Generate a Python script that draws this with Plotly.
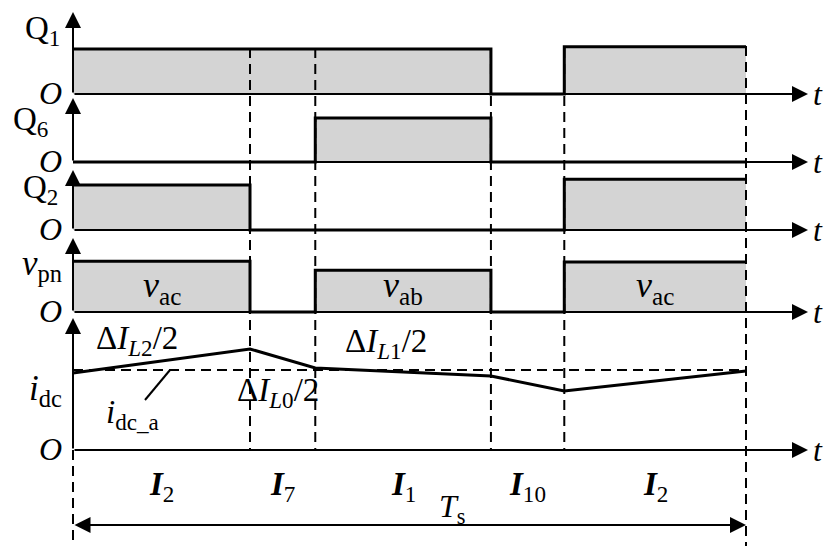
import plotly.graph_objects as go

W, H = 825, 546
FONT = "Liberation Serif"

# ---------------- data (time as fraction of Ts) ----------------
t_edges = [0.0, 0.263, 0.360, 0.621, 0.730, 1.0]
q1_t = [0.0, 0.621, 0.730, 1.0]
q1_v = [1.0, 0.0, 1.05, 1.05]
q6_t = [0.0, 0.360, 0.621, 1.0]
q6_v = [0.0, 0.98, 0.0, 0.0]
q2_t = [0.0, 0.263, 0.730, 1.0]
q2_v = [1.0, 0.0, 1.13, 1.13]
vpn_t = t_edges
vpn_v = [1.13, 0.0, 0.93, 0.0, 1.11, 1.11]
cur_t = t_edges
cur_v = [0.9625, 1.2625, 1.025, 0.925, 0.7375, 0.9875]
idc_level = 1.0
vec_labels = ["2", "7", "1", "10", "2"]
vpn_labels = ["ac", None, "ab", None, "ac"]

# ---------------- layout helpers ----------------
X0, XW = 73, 673          # pixel of t=0 and pixel width of Ts
def tx(px):               # pixel x -> time
    return (px - X0) / XW
panels = {                # axis id: (baseline px, px per unit, axis-arrow top px)
    "y":  (94, 45, 12),
    "y2": (162, 45, 98),
    "y3": (230, 45, 170),
    "y4": (312, 45, 238),
    "y5": (450, 80, 318),
}
def pv(ax, px):           # pixel y -> value on panel axis
    b, u, _ = panels[ax]
    return (b - px) / u

fig = go.Figure()
series = [("y", q1_t, q1_v), ("y2", q6_t, q6_v), ("y3", q2_t, q2_v), ("y4", vpn_t, vpn_v)]
for ax, t, v in series:
    fig.add_trace(go.Scatter(x=t, y=v, xaxis="x", yaxis=ax, mode="lines",
                             line=dict(shape="hv", color="black", width=3),
                             fill="tozeroy", fillcolor="#d4d4d4", hoverinfo="skip"))
fig.add_trace(go.Scatter(x=cur_t, y=cur_v, xaxis="x", yaxis="y5", mode="lines",
                         line=dict(color="black", width=3), hoverinfo="skip"))

layout = dict(width=W, height=H, margin=dict(l=0, r=0, t=0, b=0),
              paper_bgcolor="white", plot_bgcolor="white", showlegend=False,
              xaxis=dict(domain=[0, 1], range=[tx(0), tx(W)], visible=False))
for ax, (b, u, _) in panels.items():
    key = "yaxis" if ax == "y" else "yaxis" + ax[1:]
    d = dict(domain=[0, 1], range=[(b - H) / u, b / u], visible=False)
    if ax != "y":
        d["overlaying"] = "y"
    layout[key] = d
fig.update_layout(**layout)

ann = []
shapes = []
# axes arrows
for ax, (b, u, top) in panels.items():
    ann.append(dict(x=0, y=pv(ax, top), ax=0, ay=0, xref="x", yref=ax, axref="x", ayref=ax,
                    text="", showarrow=True, arrowhead=2, arrowsize=1.6, arrowwidth=2, arrowcolor="black"))
    ann.append(dict(x=tx(808), y=0, ax=0, ay=0, xref="x", yref=ax, axref="x", ayref=ax,
                    text="", showarrow=True, arrowhead=2, arrowsize=1.6, arrowwidth=2, arrowcolor="black"))
    ann.append(dict(x=tx(811), y=0, xref="x", yref=ax, text="<i>t</i>", showarrow=False,
                    xanchor="left", yanchor="middle", font=dict(family=FONT, size=32, color="black")))
    ann.append(dict(x=tx(64), y=pv(ax, b - 1), xref="x", yref=ax, text="<i>O</i>", showarrow=False,
                    xanchor="right", yanchor="middle", font=dict(family=FONT, size=32, color="black")))

def lab(px, py, text, size=32, xanchor="center"):
    ann.append(dict(x=px / W, y=1 - py / H, xref="paper", yref="paper", text=text, showarrow=False,
                    xanchor=xanchor, yanchor="middle", font=dict(family=FONT, size=size, color="black")))

lab(62, 30, "Q<sub>1</sub>", size=33, xanchor="right")
lab(50, 121, "Q<sub>6</sub>", size=33, xanchor="right")
lab(60, 189, "Q<sub>2</sub>", size=33, xanchor="right")
lab(64, 265, "<i>v</i><sub>pn</sub>", size=35, xanchor="right")
lab(64, 390, "<i>i</i><sub>dc</sub>", size=35, xanchor="right")
lab(137, 340, "Δ<i>I</i><sub><i>L</i>2</sub>/2", size=33)
lab(386, 343, "Δ<i>I</i><sub><i>L</i>1</sub>/2", size=33)
lab(278, 392, "Δ<i>I</i><sub><i>L</i>0</sub>/2", size=33)
lab(132, 414, "<i>i</i><sub>dc_a</sub>", size=33)
lab(452, 508, "<i>T</i><sub>s</sub>", size=32)

# vpn segment labels and vector labels
for i, name in enumerate(vpn_labels):
    if name:
        xm = (t_edges[i] + t_edges[i + 1]) / 2
        ann.append(dict(x=xm, y=pv("y4", 287), xref="x", yref="y4", text="<i>v</i><sub>%s</sub>" % name,
                        showarrow=False, font=dict(family=FONT, size=36, color="black")))
for i, name in enumerate(vec_labels):
    xm = (t_edges[i] + t_edges[i + 1]) / 2
    ann.append(dict(x=xm, y=pv("y5", 486), xref="x", yref="y5", text="<b><i>I</i></b><sub>%s</sub>" % name,
                    showarrow=False, font=dict(family=FONT, size=33, color="black")))

# Ts double arrow
ann.append(dict(x=1.0, y=pv("y5", 525), ax=0, ay=pv("y5", 525), xref="x", yref="y5", axref="x", ayref="y5",
                text="", showarrow=True, arrowhead=2, startarrowhead=2, arrowside="end+start",
                arrowsize=1.6, startarrowsize=1.6, arrowwidth=2, arrowcolor="black"))

dash = "10px,6px"
for t in t_edges[1:5]:
    shapes.append(dict(type="line", xref="x", yref="y5", x0=t, x1=t, y0=pv("y5", 48), y1=0,
                       line=dict(color="black", width=2, dash=dash)))
shapes.append(dict(type="line", xref="x", yref="y5", x0=1.0, x1=1.0, y0=pv("y5", 46), y1=pv("y5", H),
                   line=dict(color="black", width=2, dash=dash)))
shapes.append(dict(type="line", xref="x", yref="y5", x0=0, x1=0, y0=0, y1=pv("y5", H),
                   line=dict(color="black", width=2, dash=dash)))
shapes.append(dict(type="line", xref="x", yref="y5", x0=0, x1=1.0, y0=idc_level, y1=idc_level,
                   line=dict(color="black", width=2, dash=dash)))
# leader for i_dc_a
shapes.append(dict(type="line", xref="x", yref="y5", x0=tx(145), x1=tx(170), y0=pv("y5", 400), y1=idc_level,
                   line=dict(color="black", width=2)))

fig.update_layout(annotations=ann, shapes=shapes)
fig.write_html("out.html")
